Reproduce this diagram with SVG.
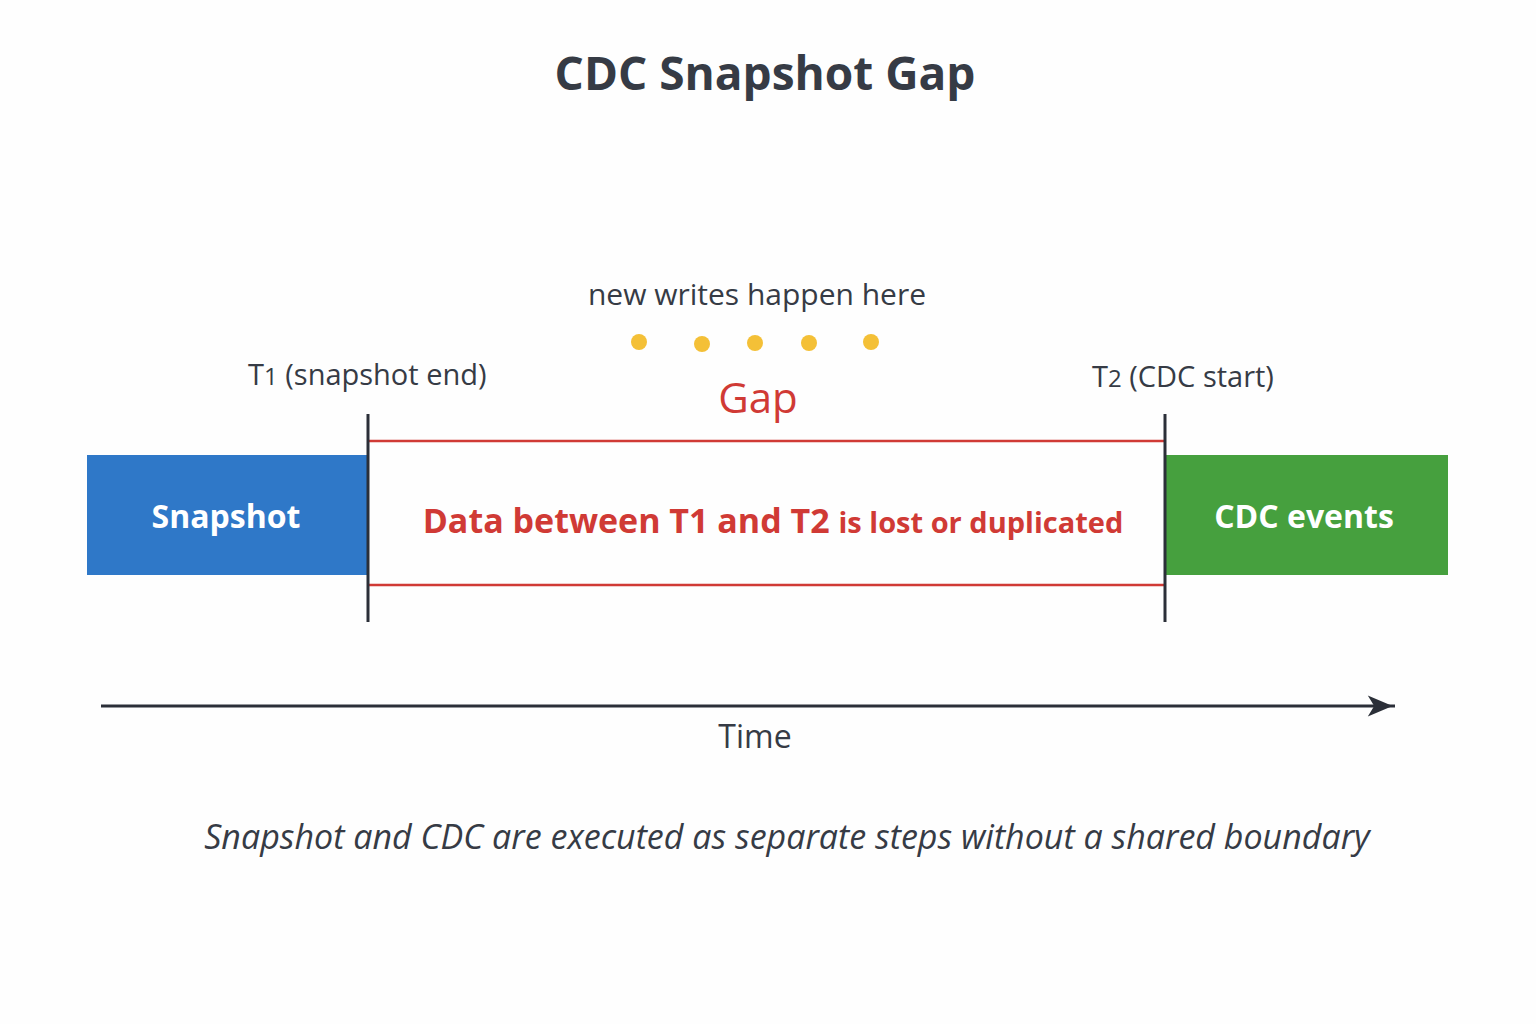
<svg xmlns="http://www.w3.org/2000/svg" width="1536" height="1024" viewBox="0 0 1536 1024">
<style>
text{font-family:"Open Sans","Noto Sans",sans-serif;fill:#363b45}
.red{fill:#d03a35}
.w{fill:#fff;font-weight:bold;font-size:32px}
</style>
<defs><marker id="ah" viewBox="0 0 10 10" refX="9" refY="5" markerWidth="10" markerHeight="8" markerUnits="userSpaceOnUse" orient="auto" style="overflow:visible"><path d="M-25,-8 L6,5 L-25,18 L-17,5 Z" fill="#2b2f38"/></marker></defs>
<rect width="1536" height="1024" fill="#fefefe"/>
<text x="765" y="90" text-anchor="middle" font-size="46" font-weight="bold">CDC Snapshot Gap</text>
<g id="snapshot"><rect x="87" y="455" width="281" height="120" fill="#2f78c8"/><text class="w" x="226" y="528" text-anchor="middle">Snapshot</text></g>
<g id="cdc"><rect x="1166" y="455" width="282" height="120" fill="#46a03e"/><text class="w" x="1304" y="528" text-anchor="middle">CDC events</text></g>
<g id="gap">
<line x1="368" y1="441" x2="1165" y2="441" stroke="#d03a35" stroke-width="2.5"/>
<line x1="368" y1="585" x2="1165" y2="585" stroke="#d03a35" stroke-width="2.5"/>
<text class="red" x="758" y="413" text-anchor="middle" font-size="42">Gap</text>
<text class="red" x="773" y="533" text-anchor="middle" font-weight="bold" font-size="34">Data between T1 and T2 <tspan font-size="29">is lost or duplicated</tspan></text>
</g>
<g id="connectors">
<line x1="368" y1="414" x2="368" y2="622" stroke="#2b2f38" stroke-width="3"/>
<line x1="1165" y1="414" x2="1165" y2="622" stroke="#2b2f38" stroke-width="3"/>
<line x1="101" y1="706" x2="1395" y2="706" stroke="#2b2f38" stroke-width="3" marker-end="url(#ah)"/>
</g>
<g id="t1"><text x="248" y="385" font-size="29">T<tspan font-size="24">1</tspan> (snapshot end)</text></g>
<g id="t2"><text x="1092" y="387" font-size="29">T<tspan font-size="24">2</tspan> (CDC start)</text></g>
<g id="writes"><text x="757" y="305" text-anchor="middle" font-size="30">new writes happen here</text>
<g fill="#f4c037"><circle cx="639" cy="342" r="8"/><circle cx="702" cy="344" r="8"/><circle cx="755" cy="343" r="8"/><circle cx="809" cy="343" r="8"/><circle cx="871" cy="342" r="8"/></g></g>
<text x="755" y="748" text-anchor="middle" font-size="32">Time</text>
<text x="787" y="849" text-anchor="middle" font-size="34" font-style="italic">Snapshot and CDC are executed as separate steps without a shared boundary</text>
</svg>
